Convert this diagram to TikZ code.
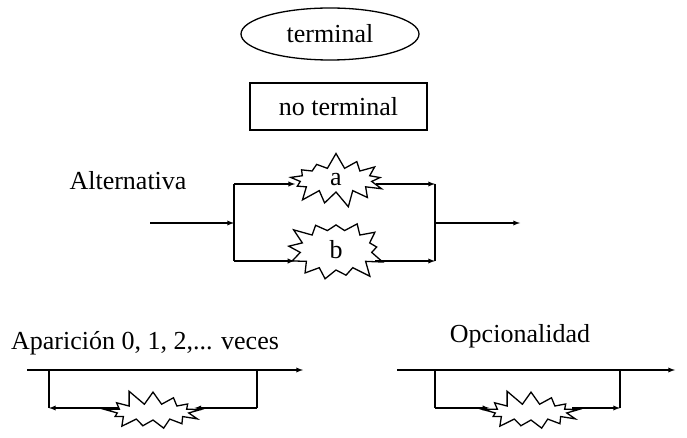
\documentclass[tikz,border=0pt]{standalone}
\usepackage{fontspec}
\setmainfont{Liberation Serif}
\usetikzlibrary{shapes.geometric,shapes.symbols}
\tikzset{
  burst/.style={starburst, draw, fill=white, line width=1.3pt, starburst points=13,
    starburst point height=16pt, minimum width=104pt, minimum height=56pt, inner sep=0pt},
  bar/.style={line width=2.6pt},
}
\begin{document}
\begin{tikzpicture}[>=latex, x=1pt, y=-1pt, line width=1.3pt, font=\fontsize{26}{30}\selectfont]
	\useasboundingbox (0,0) rectangle (687,438);
	% simbolos
	\node[ellipse, draw, minimum width=178pt, minimum height=52pt] (term) at (330,34) {terminal};
	\node[rectangle, draw, minimum width=177pt, minimum height=47pt] (noterm) at (338.5,106.5) {no terminal};
	% alternativa
	\node (alt) at (128,181) {Alternativa};
	\coordinate (in) at (150,223);
	\coordinate (j1) at (234,223);
	\coordinate (j1a) at (234,184);
	\coordinate (j1b) at (234,261);
	\coordinate (j2) at (435,223);
	\coordinate (j2a) at (435,184);
	\coordinate (j2b) at (435,261);
	\coordinate (out) at (520,223);
	\node[burst, random starburst=7] (a) at (336,180) {a};
	\node[burst, random starburst=3, minimum height=72pt] (b) at (336,250) {b};
	\draw[->] (in) -- (j1);
	\draw[->] (j1a) -- (j1a -| a.west);
	\draw[->] (j1b) -- (j1b -| b.west);
	\draw[->] (j2a -| a.east) -- (j2a);
	\draw[->] (j2b -| b.east) -- (j2b);
	\draw[bar] (j1a) -- (j1b);
	\draw[bar] (j2a) -- (j2b);
	\draw[->] (j2) -- (out);
	% repeticion
	\node (rep) at (145,343) {Aparición 0, 1, 2,... veces};
	\coordinate (r0) at (27,370);
	\coordinate (r1) at (303,370);
	\coordinate (ra) at (49,370);
	\coordinate (ra') at (49,408);
	\coordinate (rb) at (257,370);
	\coordinate (rb') at (257,408);
	\coordinate (rc) at (150,408);
	\draw[->] (r0) -- (r1);
	\draw[->] (rc) -- (ra');
	\node[burst, random starburst=11, minimum height=48pt] (s1) at (153,412) {};
	\draw (rb) -- (rb');
	\draw[->] (rb') -- (rb' -| s1.east);
	\draw[bar] (ra) -- (ra');
	% opcionalidad
	\node (opc) at (520,336) {Opcionalidad};
	\coordinate (o0) at (397,370);
	\coordinate (o1) at (675,370);
	\coordinate (oa) at (435,370);
	\coordinate (oa') at (435,408);
	\coordinate (ob) at (620,370);
	\coordinate (ob') at (620,408);
	\draw[->] (o0) -- (o1);
	\node[burst, random starburst=11, minimum height=48pt] (s2) at (531,412) {};
	\draw[->] (oa') -- (oa' -| s2.west);
	\draw[->] (ob' -| s2.east) -- (ob');
	\draw[bar] (oa) -- (oa');
	\draw[bar] (ob) -- (ob');
\end{tikzpicture}
\end{document}
